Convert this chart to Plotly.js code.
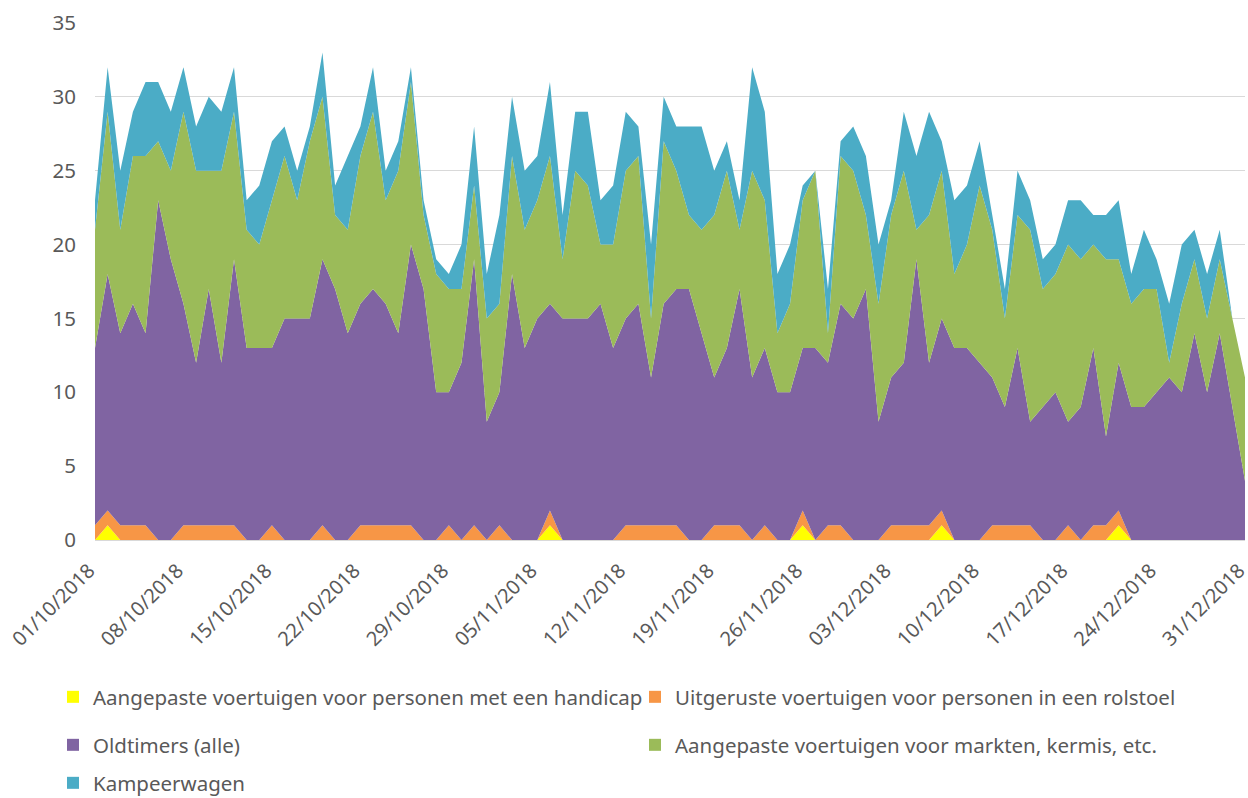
<!DOCTYPE html>
<html>
<head>
<meta charset="utf-8">
<script src="https://cdn.plot.ly/plotly-3.0.1.min.js"></script>
<style>
  html, body { margin: 0; padding: 0; background: #ffffff; }
  #chart { width: 1248px; height: 798px; }
</style>
</head>
<body>
<div id="chart"></div>
<script>
// ---- Data ----
const seriesNames = [
  "Aangepaste voertuigen voor personen met een handicap",
  "Uitgeruste voertuigen voor personen in een rolstoel",
  "Oldtimers (alle)",
  "Aangepaste voertuigen voor markten, kermis, etc.",
  "Kampeerwagen"
];

const handicap = [0,1,0,0,0,0,0,0,0,0, 0,0,0,0,0,0,0,0,0,0, 0,0,0,0,0,0,0,0,0,0,
  0,0,0,0,0,0,1,0,0,0, 0,0,0,0,0,0,0,0,0,0, 0,0,0,0,0,0,1,0,0,0,
  0,0,0,0,0,0,0,1,0,0, 0,0,0,0,0,0,0,0,0,0, 0,1,0,0,0,0,0,0,0,0, 0,0];

const rolstoel = [1,1,1,1,1,0,0,1,1,1, 1,1,0,0,1,0,0,0,1,0, 0,1,1,1,1,1,0,0,1,0,
  1,0,1,0,0,0,1,0,0,0, 0,0,1,1,1,1,1,0,0,1, 1,1,0,1,0,0,1,0,1,1,
  0,0,0,1,1,1,1,1,0,0, 0,1,1,1,1,0,0,1,0,1, 1,1,0,0,0,0,0,0,0,0, 0,0];

const oldtimers = [12,16,13,15,13,23,19,15,11,16, 11,18,13,13,12,15,15,15,18,17,
  14,15,16,15,13,19,17,10,9,12, 18,8,9,18,13,15,14,15,15,15,
  16,13,14,15,10,15,16,17,14,10, 12,16,11,12,10,10,11,13,11,15,
  15,17,8,10,11,18,11,13,13,13, 12,10,8,12,7,9,10,7,9,12,
  6,10,9,9,10,11,10,14,10,14, 9,4];

const markten = [8,11,7,10,12,4,6,13,13,8, 13,10,8,7,10,11,8,12,11,5,
  7,10,12,7,11,11,5,8,7,5, 5,7,6,8,8,8,10,4,10,9,
  4,7,10,10,4,11,8,5,7,11, 12,4,14,10,4,6,10,12,2,10,
  10,5,8,11,13,2,10,10,5,7, 12,10,6,9,13,8,8,12,10,7,
  12,7,7,8,7,1,6,5,5,5, 6,7];

const kampeerwagen = [2,3,4,3,5,4,4,3,3,5, 4,3,2,4,4,2,2,1,3,2,
  5,2,3,2,2,1,1,1,1,3, 4,3,6,4,4,3,5,3,4,5,
  3,4,4,2,5,3,3,6,7,3, 2,2,7,6,4,4,1,0,3,1,
  3,4,4,1,4,5,7,2,5,4, 3,1,2,3,2,2,2,3,4,2,
  3,4,2,4,2,4,4,2,3,2, 0,0];

const tickLabels = ["01/10/2018","08/10/2018","15/10/2018","22/10/2018","29/10/2018",
  "05/11/2018","12/11/2018","19/11/2018","26/11/2018","03/12/2018","10/12/2018",
  "17/12/2018","24/12/2018","31/12/2018"];

const colors = ["#FFFF00", "#F79646", "#8064A2", "#9BBB59", "#4BACC6"];

// ---- Category labels: each day from 01/10/2018 to 31/12/2018 ----
const dates = [];
for (let t = Date.UTC(2018, 9, 1); t <= Date.UTC(2018, 11, 31); t += 86400000) {
  const d = new Date(t);
  const dd = String(d.getUTCDate()).padStart(2, "0");
  const mm = String(d.getUTCMonth() + 1).padStart(2, "0");
  dates.push(dd + "/" + mm + "/" + d.getUTCFullYear());
}

const values = [handicap, rolstoel, oldtimers, markten, kampeerwagen];
const legendIds = ["legend", "legend2", "legend3", "legend4", "legend5"];

const traces = [];
values.forEach((v, i) => {
  traces.push({
    type: "scatter",
    x: dates,
    y: v,
    name: seriesNames[i],
    stackgroup: "one",
    mode: "none",
    fillcolor: colors[i],
    line: { width: 0 },
    showlegend: false,
    hoverinfo: "x+y+name"
  });
});
// legend entries (square markers like the original)
values.forEach((v, i) => {
  traces.push({
    type: "scatter",
    x: [null],
    y: [null],
    name: seriesNames[i],
    mode: "markers",
    marker: { symbol: "square", size: 12, color: colors[i] },
    legend: legendIds[i],
    showlegend: true,
    hoverinfo: "skip"
  });
});

const font = { family: "Noto Sans, Liberation Sans, Arial, sans-serif", size: 20.5, color: "#595959" };
const legendBase = {
  orientation: "h",
  xanchor: "left",
  yanchor: "middle",
  itemwidth: 30,
  bgcolor: "rgba(0,0,0,0)",
  font: font,
  itemclick: false,
  itemdoubleclick: false
};

const colLeft = (53 - 95) / 1150;
const colRight = (635 - 95) / 1150;
const row1 = (540 - 697) / 517;
const row2 = (540 - 745) / 517;
const row3 = (540 - 783) / 517;

const layout = {
  width: 1248,
  height: 798,
  margin: { l: 95, r: 3, t: 23, b: 258, pad: 0, autoexpand: false },
  paper_bgcolor: "#ffffff",
  plot_bgcolor: "#ffffff",
  font: font,
  showlegend: true,
  xaxis: {
    type: "category",
    range: [0, dates.length - 1],
    tickmode: "array",
    tickvals: tickLabels,
    ticktext: tickLabels,
    tickangle: -45,
    ticks: "",
    showgrid: false,
    showline: true,
    linecolor: "#d9d9d9",
    linewidth: 1,
    zeroline: false,
    tickfont: Object.assign({}, font, { size: 20 }),
    ticklabelstandoff: 10,
    ticklabelshift: -6,
    automargin: false,
    fixedrange: true
  },
  yaxis: {
    range: [0, 35],
    dtick: 5,
    tick0: 0,
    ticks: "",
    showgrid: true,
    gridcolor: "#d9d9d9",
    gridwidth: 1,
    showline: false,
    zeroline: false,
    tickfont: font,
    ticklabelstandoff: 18,
    automargin: false,
    fixedrange: true
  },
  legend:  Object.assign({}, legendBase, { x: colLeft,  y: row1 }),
  legend2: Object.assign({}, legendBase, { x: colRight, y: row1 }),
  legend3: Object.assign({}, legendBase, { x: colLeft,  y: row2 }),
  legend4: Object.assign({}, legendBase, { x: colRight, y: row2 }),
  legend5: Object.assign({}, legendBase, { x: colLeft,  y: row3 })
};

Plotly.newPlot("chart", traces, layout, { displayModeBar: false, staticPlot: false });
</script>
</body>
</html>
